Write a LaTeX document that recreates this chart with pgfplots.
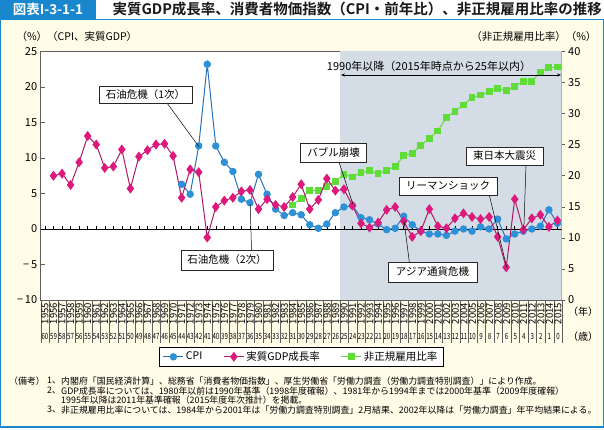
\documentclass[border=0pt]{standalone}
\usepackage{fontspec}
\setmainfont{Noto Sans CJK JP}[BoldFont={Noto Sans CJK JP Bold}]
\usepackage{pgfplots}
\pgfplotsset{compat=1.18}
\usetikzlibrary{arrows.meta}

\definecolor{cream}{RGB}{255,252,232}
\definecolor{shadebg}{RGB}{212,221,230}
\definecolor{titleblue}{RGB}{25,135,205}
\definecolor{cpiblue}{RGB}{45,145,215}
\definecolor{cpiline}{RGB}{40,115,185}
\definecolor{gdppink}{RGB}{222,25,125}
\definecolor{gdpline}{RGB}{175,25,105}
\definecolor{nrgreen}{RGB}{95,220,55}
\definecolor{framec}{RGB}{95,95,95}

\newcommand{\fs}[1]{\fontsize{#1}{#1}\selectfont}

\tikzset{
  ann/.style={draw=black!85, fill=white, line width=0.6pt, inner sep=0pt, font=\fs{10.5}},
  lead/.style={black, line width=0.5pt},
  cpi/.style={cpiline, line width=1pt, mark=*, mark size=3.2pt, mark options={fill=cpiblue, draw=cpiblue}},
  gdp/.style={gdpline, line width=1pt, mark=diamond*, mark size=4.2pt, mark options={fill=gdppink, draw=gdppink}},
  nr/.style={nrgreen, line width=1pt, mark=square*, mark size=2.9pt, mark options={fill=nrgreen, draw=nrgreen}}}

\begin{document}
\begin{tikzpicture}
\begin{scope}[x=1pt,y=-1pt]
\useasboundingbox (0,0) rectangle (604,430);
% frame and title bar
\fill[white] (0,0) rectangle (604,430);
\fill[cream] (0,20) rectangle (604,427);
\draw[titleblue, line width=1.2pt] (0.6,20) -- (0.6,427) -- (603.4,427) -- (603.4,20);
\fill[titleblue] (0,0) rectangle (96,19);
\draw[titleblue, line width=1.5pt] (0,19.5) -- (604,19.5);
\node[white, font=\fs{13.5}\bfseries] at (48,9.5) {図表I-3-1-1};
\node[anchor=west, font=\fs{14.5}\bfseries, text=black!90] at (109,9.5) {実質GDP成長率、消費者物価指数（CPI・前年比）、非正規雇用比率の推移};

\node[anchor=west, font=\fs{10.5}] at (13,37) {（\%）（CPI、実質GDP）};
\node[anchor=east, font=\fs{10.5}] at (600,37) {（非正規雇用比率）（\%）};
\end{scope}

% right axis: non-regular employment ratio
\begin{axis}[at={(40.7pt,-300pt)}, anchor=south west, scale only axis,
  width=521pt, height=248.5pt,
  xmin=1954.5, xmax=2015.5, ymin=0, ymax=40,
  xtick=\empty, ytick={0,5,...,40}, ytick pos=right,
  tick align=outside, major tick length=3pt,
  axis line style={framec, line width=0.8pt},
  every tick/.style={framec, line width=0.6pt},
  yticklabel style={font=\fs{11}, anchor=west},
  /pgf/number format/assume math mode=true,
  axis background/.style={fill=white}]
\fill[shadebg] (axis cs:1989.5,0) rectangle (axis cs:2015.5,40);
\addplot[nr] coordinates {
 (1984,15.3) (1985,16.4) (1986,17.6) (1987,17.6) (1988,18.3) (1989,19.1)
 (1990,20.2) (1991,19.8) (1992,20.5) (1993,20.8) (1994,20.3) (1995,20.9)
 (1996,21.5) (1997,23.2) (1998,23.6) (1999,24.9) (2000,26.0) (2001,27.2)
 (2002,29.4) (2003,30.4) (2004,31.4) (2005,32.6) (2006,33.0) (2007,33.5)
 (2008,34.1) (2009,33.7) (2010,34.4) (2011,35.2) (2012,35.2) (2013,36.7)
 (2014,37.4) (2015,37.5)};
\end{axis}

% left axis: CPI and real GDP growth
\begin{axis}[at={(40.7pt,-300pt)}, anchor=south west, scale only axis,
  width=521pt, height=248.5pt,
  xmin=1954.5, xmax=2015.5, ymin=-10, ymax=25,
  axis y line*=left, axis x line=none,
  ytick={-10,-5,...,25},
  yticklabel={\ifdim\tick pt<0pt −\,\pgfmathparse{abs(\tick)}\pgfmathprintnumber{\pgfmathresult}\else\pgfmathprintnumber{\tick}\fi},
  tick align=inside, major tick length=4pt,
  axis line style={framec, line width=0.8pt},
  every tick/.style={framec, line width=0.6pt},
  yticklabel style={font=\fs{11}, anchor=east},
  /pgf/number format/assume math mode=true,
  legend image code/.code={\draw[mark repeat=2, mark phase=2, #1] plot coordinates {(0pt,0pt) (10pt,0pt) (20pt,0pt)};},
  legend style={at={(0.5,-0.2286)}, anchor=center, draw=black, line width=0.6pt,
    fill=white, font=\fs{10.5}, legend columns=3, inner xsep=4pt,
    /tikz/every even column/.append style={column sep=19pt}},
  ]
\draw[black, line width=0.8pt] (axis cs:1954.5,0) -- (axis cs:2015.5,0);
\pgfplotsinvokeforeach{1955,...,2015}{\draw[black, line width=0.5pt] (axis cs:#1,0) -- ++(0pt,3.5pt);}
\addplot[cpi] coordinates {
 (1971,6.3) (1972,4.9) (1973,11.7) (1974,23.2) (1975,11.7) (1976,9.4)
 (1977,8.1) (1978,4.2) (1979,3.7) (1980,7.7) (1981,4.9) (1982,2.8)
 (1983,1.9) (1984,2.3) (1985,2.0) (1986,0.6) (1987,0.1) (1988,0.7)
 (1989,2.3) (1990,3.1) (1991,3.3) (1992,1.6) (1993,1.3) (1994,0.7)
 (1995,-0.1) (1996,0.1) (1997,1.8) (1998,0.6) (1999,-0.3) (2000,-0.7)
 (2001,-0.7) (2002,-0.9) (2003,-0.3) (2004,0.0) (2005,-0.3) (2006,0.3)
 (2007,0.0) (2008,1.4) (2009,-1.4) (2010,-0.7) (2011,-0.3) (2012,0.0)
 (2013,0.4) (2014,2.7) (2015,0.8)};
\addlegendentry{CPI}
\addplot[gdp] coordinates {
 (1956,7.5) (1957,7.8) (1958,6.2) (1959,9.4) (1960,13.1) (1961,11.9)
 (1962,8.6) (1963,8.8) (1964,11.2) (1965,5.7) (1966,10.2) (1967,11.1)
 (1968,11.9) (1969,12.0) (1970,10.3) (1971,4.4) (1972,8.4) (1973,8.0)
 (1974,-1.2) (1975,3.1) (1976,4.0) (1977,4.4) (1978,5.3) (1979,5.5)
 (1980,2.8) (1981,4.2) (1982,3.4) (1983,3.1) (1984,4.5) (1985,6.3)
 (1986,2.8) (1987,4.1) (1988,7.1) (1989,5.4) (1990,5.6) (1991,3.3)
 (1992,0.8) (1993,0.2) (1994,0.9) (1995,2.7) (1996,3.1) (1997,1.1)
 (1998,-1.1) (1999,-0.3) (2000,2.8) (2001,0.4) (2002,0.1) (2003,1.5)
 (2004,2.2) (2005,1.7) (2006,1.4) (2007,1.7) (2008,-1.1) (2009,-5.4)
 (2010,4.2) (2011,-0.1) (2012,1.5) (2013,2.0) (2014,0.3) (2015,1.2)};
\addlegendentry{実質GDP成長率}
\addlegendimage{nr}
\addlegendentry{非正規雇用比率}
\end{axis}

\begin{scope}[x=1pt,y=-1pt]
% year / age table
\foreach \k in {0,...,61} \draw[framec, line width=0.3pt] ({40.7+\k*8.55},300) -- ({40.7+\k*8.55},343);
\foreach \i in {0,...,60} {
  \pgfmathsetmacro\xx{40.7+(\i+0.5)*8.55}
  \pgfmathtruncatemacro\yr{1955+\i}
  \pgfmathtruncatemacro\ag{60-\i}
  \node[rotate=90, font=\fs{9.5}, inner sep=0pt] at (\xx,313.5) {\yr};
  \node[font=\fs{8.5}, inner sep=0pt] at (\xx,336.5) {\scalebox{0.72}[1]{\ag}};
}
\node[font=\fs{10}] at (583,312) {（年）};
\node[font=\fs{10}] at (583,337) {（歳）};

% 1990 range marker
\draw[black, line width=0.6pt, {Stealth[length=4pt]}-{Stealth[length=4pt]}] (341,75) -- (561,75);
\node[font=\fs{11}] at (429,66) {1990年以降（2015年時点から25年以内）};

% annotations
\draw[lead] (167,103) -- (198.9,146.7);
\node[ann, minimum width=93pt, minimum height=17pt] at (145.5,95) {石油危機（1次）};
\draw[lead] (251.5,250) -- (250.2,204);
\node[ann, minimum width=92pt, minimum height=20pt] at (227,260) {石油危機（2次）};
\draw[lead] (339,162) -- (352.8,204);
\node[ann, minimum width=66pt, minimum height=19pt] at (333.7,152.5) {バブル崩壊};
\draw[lead] (526,165) -- (523.8,229.4);
\node[ann, minimum width=77pt, minimum height=18pt] at (504.5,156) {東日本大震災};
\draw[lead] (489.3,195) -- (506.7,267.3);
\node[ann, minimum width=98pt, minimum height=18pt] at (448,186) {リーマンショック};
\draw[lead] (409.3,262) -- (404.1,221.2);
\node[ann, minimum width=89pt, minimum height=20pt] at (432.5,272) {アジア通貨危機};

% notes
\begin{scope}[every node/.style={anchor=west, font=\fs{8.9}, inner sep=0pt}]
\node at (9,381) {（備考）};
\node at (47,381) {1、};
\node at (61,381) {内閣府「国民経済計算」、総務省「消費者物価指数」、厚生労働省「労働力調査（労働力調査特別調査）」により作成。};
\node at (47,391) {2、};
\node at (61,391) {GDP成長率については、1980年以前は1990年基準（1998年度確報）、1981年から1994年までは2000年基準（2009年度確報）};
\node at (61,400.5) {1995年以降は2011年基準確報（2015年度年次推計）を掲載。};
\node at (47,410) {3、};
\node at (61,410) {非正規雇用比率については、1984年から2001年は「労働力調査特別調査」2月結果、2002年以降は「労働力調査」年平均結果による。};
\end{scope}
\end{scope}
\end{tikzpicture}
\end{document}
